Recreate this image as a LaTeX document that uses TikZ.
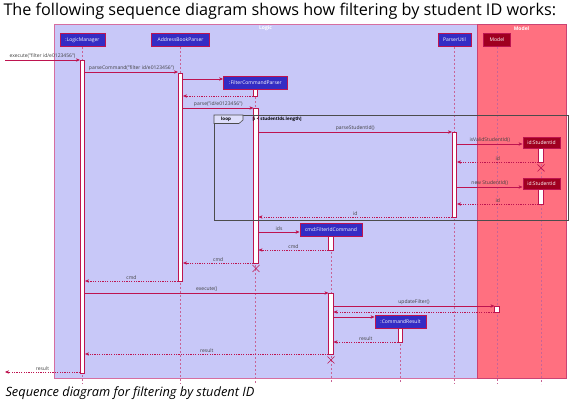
\documentclass[tikz,border=0pt]{standalone}
\usepackage{fontspec}
\setmainfont{Open Sans}
\usetikzlibrary{arrows.meta}

\definecolor{logicbg}{RGB}{200,200,248}
\definecolor{modelbg}{RGB}{255,112,128}
\definecolor{frameline}{RGB}{214,110,160}
\definecolor{partblue}{RGB}{52,44,196}
\definecolor{partred}{RGB}{160,0,32}
\definecolor{crim}{RGB}{190,20,80}
\definecolor{lifepink}{RGB}{200,100,150}

\tikzset{
  part/.style={draw=crim,fill=partblue,text=white,line width=0.9pt,inner sep=2pt,
    minimum height=13pt,font=\fontsize{5}{6}\selectfont},
  mpart/.style={part,fill=partred},
  act/.style={draw=crim,fill=white,line width=0.6pt,minimum width=4.5pt,inner sep=0pt,anchor=north},
  life/.style={lifepink,line width=0.6pt,dash pattern=on 2pt off 2pt},
  msg/.style={crim,line width=0.5pt,-{Stealth[length=4pt,width=3.4pt,inset=1.2pt]}},
  ret/.style={msg,dash pattern=on 1.2pt off 1.2pt},
  lbl/.style={font=\fontsize{5}{6}\selectfont,text=black!75,inner sep=1pt},
  kill/.style={crim,line width=0.7pt},
}

\begin{document}
\begin{tikzpicture}[x=1pt,y=-1pt]
\useasboundingbox (0,0) rectangle (582,403);
% ---- title and caption ----
\node[anchor=west,font=\fontsize{16.2}{18}\selectfont] (title) at (0,11) {The following sequence diagram shows how filtering by student ID works:};
\node[anchor=west,font=\fontsize{12.8}{15}\selectfont\itshape] (caption) at (2,393) {Sequence diagram for filtering by student ID};
% ---- boxes ----
\draw[frameline,line width=0.8pt,fill=logicbg] (54,24) rectangle (477,378);
\draw[crim!80,line width=0.8pt,fill=modelbg] (477,24) rectangle (566,378);
\node[font=\fontsize{5}{6}\selectfont\bfseries,text=white] (logic) at (265.5,28.5) {Logic};
\node[font=\fontsize{5}{6}\selectfont\bfseries,text=white] (modelbox) at (521.5,28.5) {Model};
% ---- participants ----
\node[part,minimum width=45pt] (lm) at (82.5,40) {:LogicManager};
\node[part,minimum width=58pt] (abp) at (180.5,40) {AddressBookParser};
\node[part,minimum width=33pt] (pu) at (454.5,40) {ParserUtil};
\node[mpart,minimum width=27pt] (model) at (497,40) {Model};
\node[part,minimum width=64pt] (fcp) at (255.5,82.5) {:FilterCommandParser};
\node[part,minimum width=62pt] (fic) at (331,229.5) {cmd:FilterIdCommand};
\node[part,minimum width=51pt] (cr) at (400.5,321.5) {:CommandResult};
% ---- lifelines ----
\foreach \p in {lm,abp,pu,model,fcp,fic,cr}
  \draw[life] (\p.south) -- (\p.south |- 0,384);
\draw[life] (541,148) -- (541,384);
% ---- student ids (model) ----
\node[mpart,minimum width=37pt,minimum height=11pt] (sid1) at (541.5,142.5) {id:StudentId};
\node[mpart,minimum width=37pt,minimum height=11pt] (sid2) at (541.5,183.5) {id:StudentId};
% ---- activations ----
\node[act,minimum height=313pt] (lmA) at (82.5,60) {};
\node[act,minimum height=208pt] (abpA) at (180.5,73) {};
\node[act,minimum height=7pt] (fcpA1) at (255.5,89) {};
\node[act,minimum height=155pt] (fcpA2) at (256,108) {};
\node[act,minimum height=85pt] (puA) at (454.5,132) {};
\node[act,minimum height=14pt] (sid1A) at (541,148.5) {};
\node[act,minimum height=15pt] (sid2A) at (541,189.5) {};
\node[act,minimum height=14pt] (ficA1) at (331,236) {};
\node[act,minimum height=61pt] (ficA2) at (331,293) {};
\node[act,minimum height=6pt] (modelA) at (497,306) {};
\node[act,minimum height=14pt] (crA) at (400.5,328) {};
% ---- loop frame ----
\draw[black!70,line width=0.8pt] (214,115) rectangle (568,220);
\draw[black!70,line width=0.6pt,fill=logicbg!60] (214,115) -- (243,115) -- (243,120) -- (239,123.5) -- (214,123.5) -- cycle;
\node[font=\fontsize{4.5}{5}\selectfont\bfseries] (looptag) at (226,119.3) {loop};
\node[anchor=west,font=\fontsize{4.5}{5}\selectfont\bfseries] (guard) at (249,119.3) {{[}i {\textless} studentIds.length{]}};
% ---- messages ----
\coordinate (in) at (5,60);
\coordinate (out) at (5,372);
\draw[msg] (in) -- (lmA.west |- in) node[lbl,midway,above] {execute("filter id/e0123456")};
\draw[msg] (lmA.east |- 0,72) -- (abpA.west |- 0,72) node[lbl,midway,above] {parseCommand("filter id/e0123456")};
\draw[msg] (abpA.east |- 0,79) -- (fcp.west |- 0,79);
\draw[ret] (fcpA1.west |- 0,96) -- (abpA.east |- 0,96);
\draw[msg] (abpA.east |- 0,108) -- (fcpA2.west |- 0,108) node[lbl,midway,above] {parse("id/e0123456")};
\draw[msg] (fcpA2.east |- 0,132) -- (puA.west |- 0,132) node[lbl,midway,above] {parseStudentId()};
\draw[msg] (puA.east |- 0,144) -- (sid1.west |- 0,144) node[lbl,midway,above] {isValidStudentId()};
\draw[ret] (sid1A.west |- 0,162) -- (puA.east |- 0,162) node[lbl,midway,above] {id};
\draw[kill] (537.5,164.5) -- (544.5,171.5) (537.5,171.5) -- (544.5,164.5);
\draw[msg] (puA.east |- 0,187) -- (sid2.west |- 0,187) node[lbl,midway,above] {new StudentId()};
\draw[ret] (sid2A.west |- 0,204) -- (puA.east |- 0,204) node[lbl,midway,above] {id};
\draw[ret] (puA.west |- 0,217) -- (fcpA2.east |- 0,217) node[lbl,midway,above] {id};
\draw[msg] (fcpA2.east |- 0,232) -- (fic.west |- 0,232) node[lbl,midway,above] {ids};
\draw[ret] (ficA1.west |- 0,250) -- (fcpA2.east |- 0,250) node[lbl,midway,above] {cmd};
\draw[ret] (fcpA2.west |- 0,263) -- (abpA.east |- 0,263) node[lbl,midway,above] {cmd};
\draw[kill] (252.5,265) -- (259.5,272) (252.5,272) -- (259.5,265);
\draw[ret] (abpA.west |- 0,281) -- (lmA.east |- 0,281) node[lbl,midway,above] {cmd};
\draw[msg] (lmA.east |- 0,293) -- (ficA2.west |- 0,293) node[lbl,midway,above] {execute()};
\draw[msg] (ficA2.east |- 0,306) -- (modelA.west |- 0,306) node[lbl,midway,above] {updateFilter()};
\draw[ret] (modelA.west |- 0,312) -- (ficA2.east |- 0,312);
\draw[msg] (ficA2.east |- 0,317) -- (cr.west |- 0,317);
\draw[ret] (crA.west |- 0,342) -- (ficA2.east |- 0,342) node[lbl,midway,above] {result};
\draw[ret] (ficA2.west |- 0,354) -- (lmA.east |- 0,354) node[lbl,midway,above] {result};
\draw[kill] (327.5,356.5) -- (334.5,363.5) (327.5,363.5) -- (334.5,356.5);
\draw[ret] (lmA.west |- out) -- (out) node[lbl,midway,above] {result};
\end{tikzpicture}
\end{document}
